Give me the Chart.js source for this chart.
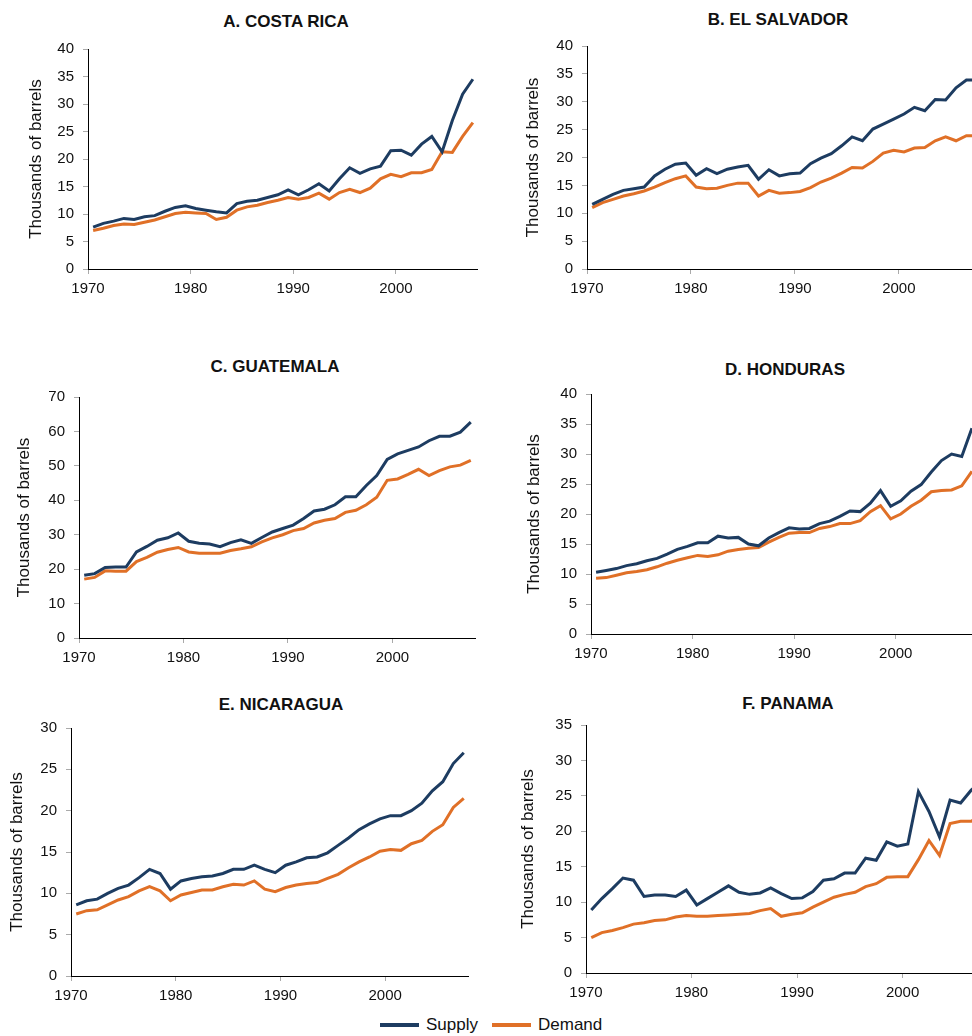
<!DOCTYPE html>
<html lang="en">
  <head>
    <meta charset="utf-8" />
    <title>Supply and demand of petroleum products, Central America</title>
    <style>
      * {
        margin: 0;
        padding: 0;
        font-family: "Liberation Sans", Arial, sans-serif;
      }
      html,
      body {
        width: 972px;
        height: 1036px;
        overflow: hidden;
        background: #fff;
        position: relative;
      }
      .panel {
        position: absolute;
      }
      .panelTitle {
        position: absolute;
        transform: translate(-50%, -50%);
        font-weight: bold;
        font-size: 17px;
        color: #111;
        white-space: nowrap;
      }
      .legend {
        position: absolute;
        top: 1015px;
        left: 380px;
        display: flex;
        align-items: center;
        font-size: 17px;
        color: #111;
      }
      .swatch {
        display: inline-block;
        width: 39px;
        height: 4px;
        margin-right: 7px;
      }
    </style>
  </head>
  <body>
    <div class="panelTitle" style="left: 286px; top: 22px">A. COSTA RICA</div>
    <div class="panelTitle" style="left: 778px; top: 20px">B. EL SALVADOR</div>
    <div class="panelTitle" style="left: 275px; top: 367px">C. GUATEMALA</div>
    <div class="panelTitle" style="left: 785px; top: 370px">D. HONDURAS</div>
    <div class="panelTitle" style="left: 281px; top: 705px">E. NICARAGUA</div>
    <div class="panelTitle" style="left: 788px; top: 704px">F. PANAMA</div>

    <div class="panel" style="left: 26px; top: 31px; width: 452px; height: 268px"><canvas id="chartA"></canvas></div>
    <div class="panel" style="left: 523px; top: 28px; width: 459px; height: 271px"><canvas id="chartB"></canvas></div>
    <div class="panel" style="left: 14px; top: 379px; width: 462px; height: 289px"><canvas id="chartC"></canvas></div>
    <div class="panel" style="left: 524px; top: 376px; width: 453px; height: 288px"><canvas id="chartD"></canvas></div>
    <div class="panel" style="left: 7px; top: 710px; width: 462px; height: 296px"><canvas id="chartE"></canvas></div>
    <div class="panel" style="left: 518px; top: 707px; width: 469px; height: 296px"><canvas id="chartF"></canvas></div>

    <div class="legend">
      <span class="swatch" style="background: #1d3c61"></span><span>Supply</span>
      <span class="swatch" style="background: #e07027; margin-left: 14px"></span><span>Demand</span>
    </div>

    <script src="https://cdn.jsdelivr.net/npm/chart.js@4.4.1/dist/chart.umd.min.js"></script>

    <script>
      // years 1970..2007, values in thousands of barrels
      const years = Array.from({ length: 38 }, (_, i) => 1970 + i);

      const costaRicaSupply = [7.6, 8.3, 8.7, 9.2, 9.0, 9.5, 9.7, 10.5, 11.2, 11.5, 11.0, 10.7, 10.4, 10.2, 11.9, 12.3, 12.5, 13.0, 13.5, 14.4, 13.5, 14.4, 15.5, 14.2, 16.4, 18.4, 17.4, 18.2, 18.7, 21.5, 21.6, 20.7, 22.7, 24.1, 21.3, 27.0, 31.8, 34.5];
      const costaRicaDemand = [7.0, 7.4, 7.9, 8.2, 8.1, 8.5, 8.9, 9.5, 10.1, 10.3, 10.2, 10.1, 9.0, 9.4, 10.7, 11.3, 11.6, 12.1, 12.5, 13.0, 12.7, 13.0, 13.8, 12.7, 13.9, 14.5, 13.9, 14.7, 16.4, 17.2, 16.8, 17.5, 17.5, 18.1, 21.3, 21.2, 24.1, 26.6];

      const elSalvadorSupply = [11.6, 12.5, 13.4, 14.1, 14.4, 14.7, 16.7, 17.9, 18.8, 19.0, 16.8, 18.0, 17.1, 17.9, 18.3, 18.6, 16.1, 17.8, 16.7, 17.1, 17.2, 18.9, 19.9, 20.7, 22.1, 23.7, 23.0, 25.1, 26.0, 26.9, 27.8, 29.0, 28.4, 30.4, 30.3, 32.5, 33.9, 33.9];
      const elSalvadorDemand = [11.0, 11.9, 12.5, 13.1, 13.5, 14.0, 14.7, 15.5, 16.2, 16.7, 14.7, 14.4, 14.5, 15.0, 15.4, 15.4, 13.1, 14.1, 13.6, 13.7, 13.9, 14.6, 15.6, 16.3, 17.2, 18.2, 18.1, 19.3, 20.8, 21.3, 21.0, 21.7, 21.8, 23.0, 23.7, 23.0, 23.9, 23.9];

      const guatemalaSupply = [18.2, 18.7, 20.5, 20.6, 20.6, 25.0, 26.6, 28.4, 29.1, 30.5, 28.1, 27.5, 27.3, 26.5, 27.7, 28.5, 27.5, 29.2, 30.8, 31.8, 32.8, 34.7, 36.9, 37.4, 38.7, 41.0, 41.0, 44.3, 47.2, 51.9, 53.5, 54.5, 55.5, 57.3, 58.6, 58.6, 59.8, 62.7];
      const guatemalaDemand = [17.1, 17.6, 19.5, 19.4, 19.4, 22.2, 23.4, 24.9, 25.7, 26.3, 25.0, 24.6, 24.6, 24.6, 25.4, 25.9, 26.5, 27.9, 29.1, 30.0, 31.2, 31.8, 33.4, 34.2, 34.7, 36.5, 37.1, 38.7, 40.9, 45.8, 46.2, 47.5, 49.0, 47.2, 48.6, 49.7, 50.2, 51.6];

      const hondurasSupply = [10.3, 10.6, 10.9, 11.4, 11.7, 12.2, 12.6, 13.3, 14.1, 14.6, 15.2, 15.2, 16.3, 16.0, 16.1, 15.0, 14.7, 16.0, 16.9, 17.7, 17.5, 17.6, 18.4, 18.8, 19.6, 20.5, 20.4, 21.8, 23.9, 21.3, 22.2, 23.8, 24.9, 27.0, 28.9, 30.0, 29.6, 34.3];
      const hondurasDemand = [9.3, 9.4, 9.8, 10.2, 10.4, 10.7, 11.2, 11.8, 12.3, 12.7, 13.1, 12.9, 13.2, 13.8, 14.1, 14.3, 14.4, 15.3, 16.1, 16.8, 16.9, 16.9, 17.6, 17.9, 18.4, 18.4, 18.9, 20.4, 21.4, 19.2, 20.0, 21.3, 22.3, 23.7, 23.9, 24.0, 24.7, 27.1];

      const nicaraguaSupply = [8.6, 9.1, 9.3, 10.0, 10.6, 11.0, 11.9, 12.9, 12.4, 10.5, 11.5, 11.8, 12.0, 12.1, 12.4, 12.9, 12.9, 13.4, 12.9, 12.5, 13.4, 13.8, 14.3, 14.4, 14.9, 15.8, 16.7, 17.7, 18.4, 19.0, 19.4, 19.4, 20.0, 20.9, 22.4, 23.5, 25.7, 27.0];
      const nicaraguaDemand = [7.5, 7.9, 8.0, 8.6, 9.2, 9.6, 10.3, 10.8, 10.3, 9.1, 9.8, 10.1, 10.4, 10.4, 10.8, 11.1, 11.0, 11.5, 10.5, 10.2, 10.7, 11.0, 11.2, 11.3, 11.8, 12.3, 13.1, 13.8, 14.4, 15.1, 15.3, 15.2, 16.0, 16.4, 17.5, 18.3, 20.4, 21.5];

      const panamaSupply = [8.9, 10.5, 11.9, 13.4, 13.1, 10.8, 11.0, 11.0, 10.8, 11.7, 9.6, 10.5, 11.4, 12.3, 11.4, 11.1, 11.3, 12.0, 11.2, 10.5, 10.6, 11.5, 13.1, 13.3, 14.1, 14.1, 16.2, 15.9, 18.5, 17.9, 18.2, 25.6, 22.8, 19.2, 24.4, 24.0, 25.8, 27.0];
      const panamaDemand = [5.0, 5.7, 6.0, 6.4, 6.9, 7.1, 7.4, 7.5, 7.9, 8.1, 8.0, 8.0, 8.1, 8.2, 8.3, 8.4, 8.8, 9.1, 8.0, 8.3, 8.5, 9.3, 10.0, 10.7, 11.1, 11.4, 12.2, 12.6, 13.5, 13.6, 13.6, 16.0, 18.7, 16.6, 21.1, 21.4, 21.4, 22.5];

      const supplyColor = "#1d3c61";
      const demandColor = "#e07027";

      // values are annual, plotted at mid-year between the decade ticks
      function toPoints(values) {
        return values.map((v, i) => ({ x: years[i] + 0.5, y: v }));
      }

      function makeChart(id, supply, demand, yMax, yStep, yWidth) {
        return new Chart(document.getElementById(id), {
          type: "line",
          data: {
            datasets: [
              {
                label: "Supply",
                data: toPoints(supply),
                borderColor: supplyColor,
                borderWidth: 3,
                pointRadius: 0,
                tension: 0,
              },
              {
                label: "Demand",
                data: toPoints(demand),
                borderColor: demandColor,
                borderWidth: 3,
                pointRadius: 0,
                tension: 0,
              },
            ],
          },
          options: {
            responsive: true,
            maintainAspectRatio: false,
            animation: false,
            layout: { padding: { top: 12, right: 0, left: 0, bottom: 0 } },
            plugins: {
              legend: { display: false },
              tooltip: { enabled: false },
            },
            scales: {
              x: {
                type: "linear",
                min: 1970,
                max: 2008,
                afterFit: (scale) => {
                  scale.height = 30;
                },
                ticks: {
                  stepSize: 10,
                  includeBounds: false,
                  padding: 6,
                  color: "#111",
                  font: { size: 15 },
                  callback: (v) => String(v),
                },
                grid: {
                  drawOnChartArea: false,
                  tickLength: 5,
                  tickColor: "#aaa",
                },
                border: { color: "#000", width: 1 },
              },
              y: {
                min: 0,
                max: yMax,
                afterFit: (scale) => {
                  scale.width = yWidth;
                },
                ticks: {
                  stepSize: yStep,
                  padding: 9,
                  color: "#111",
                  font: { size: 15 },
                },
                grid: {
                  drawOnChartArea: false,
                  tickLength: 5,
                  tickColor: "#aaa",
                },
                border: { color: "#000", width: 1 },
                title: {
                  display: true,
                  text: "Thousands of barrels",
                  color: "#111",
                  font: { size: 17 },
                  padding: 0,
                },
              },
            },
          },
        });
      }

      makeChart("chartA", costaRicaSupply, costaRicaDemand, 40, 5, 62);
      makeChart("chartB", elSalvadorSupply, elSalvadorDemand, 40, 5, 64);
      makeChart("chartC", guatemalaSupply, guatemalaDemand, 70, 10, 65);
      makeChart("chartD", hondurasSupply, hondurasDemand, 40, 5, 67);
      makeChart("chartE", nicaraguaSupply, nicaraguaDemand, 30, 5, 64);
      makeChart("chartF", panamaSupply, panamaDemand, 35, 5, 68);
    </script>
  </body>
</html>
